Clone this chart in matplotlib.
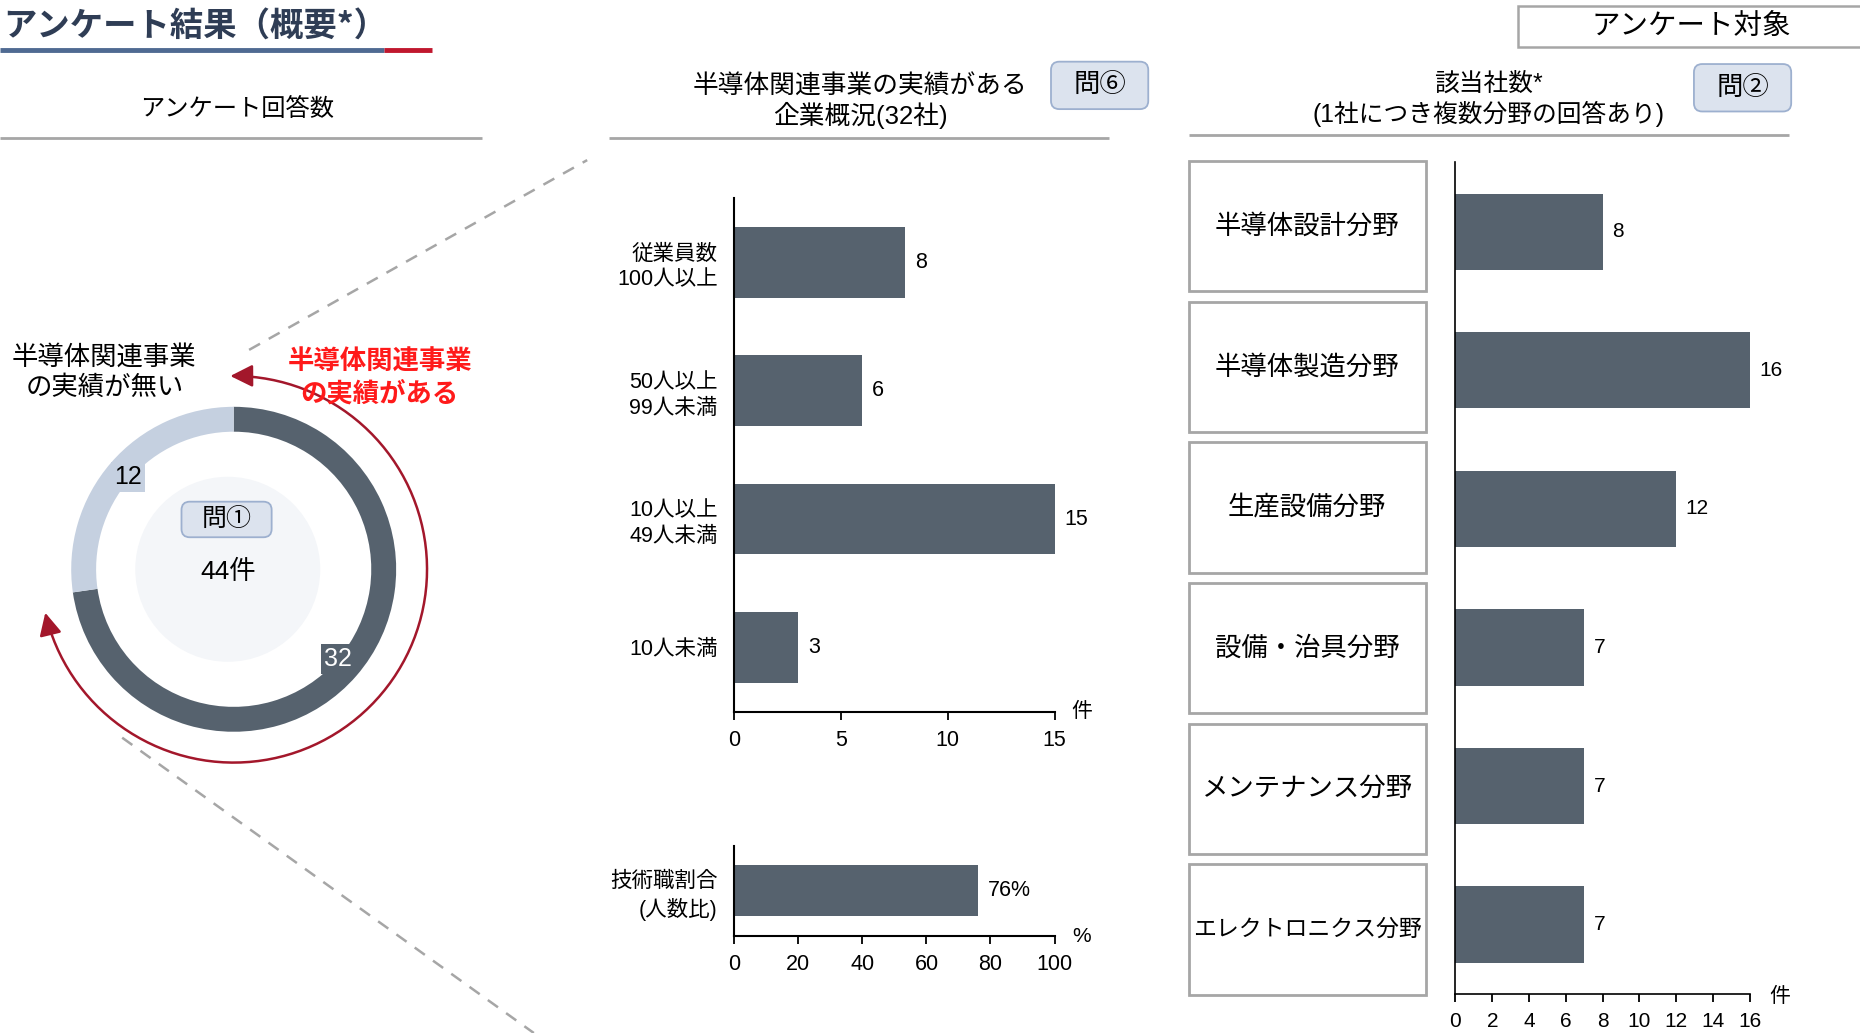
import numpy as np
import matplotlib
matplotlib.use('Agg')
import matplotlib.pyplot as plt
from matplotlib.patches import Rectangle, FancyBboxPatch, FancyArrowPatch, Circle, ArrowStyle
from matplotlib.path import Path
from matplotlib.lines import Line2D
from matplotlib.transforms import blended_transform_factory

plt.rcParams['font.family'] = ['Liberation Sans', 'Noto Sans CJK JP']

# --- data ---
answer_labels = ['半導体関連事業\nの実績がある', '半導体関連事業\nの実績が無い']
answer_counts = [32, 12]
total_answers = 44

size_labels = ['従業員数\n100人以上', '50人以上\n99人未満', '10人以上\n49人未満', '10人未満']
size_counts = [8, 6, 15, 3]

tech_label = ['技術職割合\n(人数比)']
tech_ratio = [76]

field_labels = ['半導体設計分野', '半導体製造分野', '生産設備分野',
                '設備・治具分野', 'メンテナンス分野', 'エレクトロニクス分野']
field_counts = [8, 16, 12, 7, 7, 7]

BAR = '#56626E'
LIGHT = '#C5D0E0'
GREY = '#A6A6A6'
QFC = '#DCE3EE'
QEC = '#9DB0CF'

# layout is measured on a 1568 x 871 grid
W, H = 1568.0, 871.0
def rect(l, t, r, b):
    return [l / W, 1 - b / H, (r - l) / W, (b - t) / H]

fig = plt.figure(figsize=(18.6, 10.33), dpi=100)

# overlay for titles, boxes, arrows
ov = fig.add_axes([0, 0, 1, 1], zorder=10)
ov.set_xlim(0, W)
ov.set_ylim(H, 0)
ov.axis('off')
ov.patch.set_visible(False)

def hline(x0, x1, y, color=GREY, lw=2):
    ov.add_line(Line2D([x0, x1], [y, y], color=color, lw=lw, solid_capstyle='butt'))

def qbox(l, t, r, b, txt, fs=19):
    ov.add_patch(FancyBboxPatch((l, t), r - l, b - t, boxstyle='round,pad=0,rounding_size=7',
                                fc=QFC, ec=QEC, lw=1.3))
    ov.text((l + r) / 2, (t + b) / 2, txt, ha='center', va='center', fontsize=fs)

# title
ov.text(3, 22, 'アンケート結果（概要*）', fontsize=24, fontweight='bold', color='#2F3D55',
        va='center', ha='left', family=['Noto Sans CJK JP'])
hline(0, 324, 42, color='#4F6A92', lw=3.5)
hline(324, 364, 42, color='#C0172E', lw=3.5)

# section headers
ov.text(200, 92, 'アンケート回答数', ha='center', va='center', fontsize=17.5)
hline(0, 406, 116)
ov.text(725, 86, '半導体関連事業の実績がある\n企業概況(32社)', ha='center', va='center',
        fontsize=18.5, linespacing=1.15)
hline(513, 935, 116)
qbox(886, 52, 968, 92, '問⑥')
ov.text(1255, 84, '該当社数*\n(1社につき複数分野の回答あり)', ha='center', va='center',
        fontsize=17.8, linespacing=1.25)
hline(1002, 1508, 114)
qbox(1428, 54, 1510, 94, '問②')

ov.add_patch(Rectangle((1280, 5), 300, 35, fc='white', ec=GREY, lw=1.8))
ov.text(1426, 23, 'アンケート対象', ha='center', va='center', fontsize=20.5)

# --- donut ---
cx, cy, R = 197, 480, 137
axp = fig.add_axes(rect(cx - 170, cy - 170, cx + 170, cy + 170))
axp.pie(answer_counts, colors=[BAR, LIGHT], startangle=90, counterclock=False, radius=1,
        wedgeprops=dict(width=21 / R, linewidth=0))
L = 170 / R
axp.set_xlim(-L, L)
axp.set_ylim(-L, L)
axp.add_patch(Circle((-5 / R, 0), 78 / R, fc='#F4F6F9', ec='none'))

qbox(153, 423, 229, 453, '問①', fs=18)
ov.text(192, 482, f'{total_answers}件', ha='center', va='center', fontsize=19)
ov.text(108, 402, str(answer_counts[1]), ha='center', va='center', fontsize=18,
        bbox=dict(boxstyle='square,pad=0.12', fc=LIGHT, ec='none'))
ov.text(285, 556, str(answer_counts[0]), ha='center', va='center', fontsize=18, color='white',
        bbox=dict(boxstyle='square,pad=0.12', fc=BAR, ec='none'))

ov.text(320, 319, answer_labels[0], ha='center', va='center', fontsize=19, fontweight='bold',
        color='#FF1A1A', linespacing=1.3)
ov.text(88, 314, answer_labels[1], ha='center', va='center', fontsize=19, linespacing=1.3)

# red arc arrow
ang = np.radians(np.linspace(91, -167, 200))
rr = 163
verts = np.column_stack([cx + rr * np.cos(ang), cy - rr * np.sin(ang)])
arc = FancyArrowPatch(path=Path(verts), arrowstyle=ArrowStyle('<|-|>', head_length=0.8, head_width=0.4),
                      mutation_scale=17, color='#A3172B', lw=1.8, shrinkA=0, shrinkB=0)
ov.add_patch(arc)

# dashed guide lines
ov.add_line(Line2D([210, 495], [295, 135], color=GREY, lw=1.8, dashes=(5, 4)))
ov.add_line(Line2D([103, 450], [622, 871], color=GREY, lw=1.8, dashes=(5, 4)))

def style_bar_axes(ax, fs=15.5):
    for s in ['top', 'right']:
        ax.spines[s].set_visible(False)
    for s in ['left', 'bottom']:
        ax.spines[s].set_color('black')
        ax.spines[s].set_linewidth(1.5)
    ax.tick_params(axis='y', length=0, pad=12, labelsize=15.5)
    ax.tick_params(axis='x', length=6, width=1.3, direction='out', labelsize=fs, pad=7)
    ax.patch.set_visible(False)

# --- employee size bars ---
axm = fig.add_axes(rect(619, 167, 889, 600))
ym = np.arange(len(size_counts))
axm.barh(ym, size_counts, height=0.55, color=BAR)
axm.set_xlim(0, 15)
axm.set_ylim(len(size_counts) - 0.5, -0.5)
axm.set_xticks([0, 5, 10, 15])
axm.set_yticks(ym, size_labels)
style_bar_axes(axm)
for t in axm.get_yticklabels():
    t.set_linespacing(1.3)
for i, v in enumerate(size_counts):
    axm.annotate(str(v), (v, i), xytext=(7, 0), textcoords='offset points', va='center', fontsize=15.5)
ov.text(912, 600, '件', ha='center', va='center', fontsize=15)

# --- technical staff ratio ---
axb = fig.add_axes(rect(619, 713, 889, 789))
axb.barh([0], tech_ratio, height=0.57, color=BAR)
axb.set_xlim(0, 100)
axb.set_ylim(0.5, -0.5)
axb.set_xticks(range(0, 101, 20))
axb.set_yticks([0], tech_label)
style_bar_axes(axb)
for t in axb.get_yticklabels():
    t.set_linespacing(1.3)
axb.annotate(f'{tech_ratio[0]}%', (tech_ratio[0], 0), xytext=(7, 0), textcoords='offset points',
             va='center', fontsize=15.5)
ov.text(912, 790, '%', ha='center', va='center', fontsize=15)

# --- fields ---
axr = fig.add_axes(rect(1227, 137, 1475, 838))
yr = np.arange(len(field_counts))
axr.barh(yr, field_counts, height=0.55, color=BAR)
axr.set_xlim(0, 16)
axr.set_ylim(len(field_counts) - 0.5, -0.5)
axr.set_xticks(range(0, 17, 2))
axr.set_yticks([])
style_bar_axes(axr, fs=15)
axr.spines['left'].set_linewidth(1.2)
axr.spines['bottom'].set_linewidth(1.2)
for i, v in enumerate(field_counts):
    axr.annotate(str(v), (v, i), xytext=(7, 0), textcoords='offset points', va='center', fontsize=15)
ov.text(1500, 840, '件', ha='center', va='center', fontsize=15)

tr = blended_transform_factory(ov.transData, axr.transData)
for i, lab in enumerate(field_labels):
    yc = i - 0.04 + i * 0.015
    axr.add_patch(Rectangle((1002, yc - 0.47), 200, 0.94, transform=tr, fc='white', ec=GREY,
                            lw=2, clip_on=False))
    fs = 16.5 if len(lab) > 8 else 19
    axr.text(1102, yc, lab, transform=tr, ha='center', va='center', fontsize=fs, clip_on=False)

fig.savefig('out.png', dpi=100)
